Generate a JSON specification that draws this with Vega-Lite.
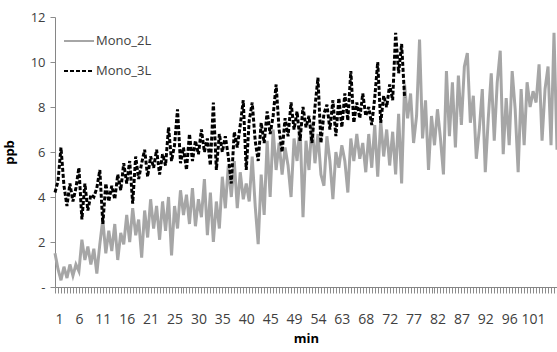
{
  "$schema": "https://vega.github.io/schema/vega-lite/v6.json",
  "width": 502,
  "height": 270,
  "autosize": {"type": "none"},
  "padding": {"left": 55, "top": 17, "right": 0, "bottom": 65},
  "background": "white",
  "config": {
    "view": {"stroke": null},
    "font": "Open Sans",
    "axis": {"grid": false, "domainColor": "#868686", "tickColor": "#8c8c8c", "labelColor": "#404040"}
  },
  "data": {"values": [
    {"i":0,"s":"Mono_2L","v":1.5},{"i":1,"s":"Mono_2L","v":0.8},{"i":2,"s":"Mono_2L","v":0.3},{"i":3,"s":"Mono_2L","v":0.9},{"i":4,"s":"Mono_2L","v":0.4},{"i":5,"s":"Mono_2L","v":1.0},{"i":6,"s":"Mono_2L","v":0.5},{"i":7,"s":"Mono_2L","v":1.0},{"i":8,"s":"Mono_2L","v":0.7},{"i":9,"s":"Mono_2L","v":2.1},
    {"i":10,"s":"Mono_2L","v":1.2},{"i":11,"s":"Mono_2L","v":1.8},{"i":12,"s":"Mono_2L","v":1.0},{"i":13,"s":"Mono_2L","v":1.7},{"i":14,"s":"Mono_2L","v":0.6},{"i":15,"s":"Mono_2L","v":1.9},{"i":16,"s":"Mono_2L","v":3.0},{"i":17,"s":"Mono_2L","v":1.5},{"i":18,"s":"Mono_2L","v":2.5},{"i":19,"s":"Mono_2L","v":1.6},
    {"i":20,"s":"Mono_2L","v":2.8},{"i":21,"s":"Mono_2L","v":1.2},{"i":22,"s":"Mono_2L","v":2.4},{"i":23,"s":"Mono_2L","v":1.9},{"i":24,"s":"Mono_2L","v":3.2},{"i":25,"s":"Mono_2L","v":2.0},{"i":26,"s":"Mono_2L","v":3.5},{"i":27,"s":"Mono_2L","v":2.3},{"i":28,"s":"Mono_2L","v":3.0},{"i":29,"s":"Mono_2L","v":1.3},
    {"i":30,"s":"Mono_2L","v":3.4},{"i":31,"s":"Mono_2L","v":2.2},{"i":32,"s":"Mono_2L","v":3.9},{"i":33,"s":"Mono_2L","v":2.6},{"i":34,"s":"Mono_2L","v":3.6},{"i":35,"s":"Mono_2L","v":2.1},{"i":36,"s":"Mono_2L","v":3.8},{"i":37,"s":"Mono_2L","v":2.5},{"i":38,"s":"Mono_2L","v":4.0},{"i":39,"s":"Mono_2L","v":1.4},
    {"i":40,"s":"Mono_2L","v":3.6},{"i":41,"s":"Mono_2L","v":2.6},{"i":42,"s":"Mono_2L","v":4.3},{"i":43,"s":"Mono_2L","v":3.2},{"i":44,"s":"Mono_2L","v":4.1},{"i":45,"s":"Mono_2L","v":2.8},{"i":46,"s":"Mono_2L","v":4.4},{"i":47,"s":"Mono_2L","v":2.7},{"i":48,"s":"Mono_2L","v":3.9},{"i":49,"s":"Mono_2L","v":3.1},
    {"i":50,"s":"Mono_2L","v":4.8},{"i":51,"s":"Mono_2L","v":2.3},{"i":52,"s":"Mono_2L","v":4.2},{"i":53,"s":"Mono_2L","v":2.0},{"i":54,"s":"Mono_2L","v":3.8},{"i":55,"s":"Mono_2L","v":2.6},{"i":56,"s":"Mono_2L","v":4.9},{"i":57,"s":"Mono_2L","v":3.5},{"i":58,"s":"Mono_2L","v":5.4},{"i":59,"s":"Mono_2L","v":4.0},
    {"i":60,"s":"Mono_2L","v":5.6},{"i":61,"s":"Mono_2L","v":3.5},{"i":62,"s":"Mono_2L","v":5.1},{"i":63,"s":"Mono_2L","v":3.9},{"i":64,"s":"Mono_2L","v":4.6},{"i":65,"s":"Mono_2L","v":3.8},{"i":66,"s":"Mono_2L","v":5.8},{"i":67,"s":"Mono_2L","v":3.6},{"i":68,"s":"Mono_2L","v":1.9},{"i":69,"s":"Mono_2L","v":5.0},
    {"i":70,"s":"Mono_2L","v":3.2},{"i":71,"s":"Mono_2L","v":6.5},{"i":72,"s":"Mono_2L","v":4.0},{"i":73,"s":"Mono_2L","v":7.0},{"i":74,"s":"Mono_2L","v":5.2},{"i":75,"s":"Mono_2L","v":6.4},{"i":76,"s":"Mono_2L","v":5.0},{"i":77,"s":"Mono_2L","v":6.2},{"i":78,"s":"Mono_2L","v":5.4},{"i":79,"s":"Mono_2L","v":4.0},
    {"i":80,"s":"Mono_2L","v":6.6},{"i":81,"s":"Mono_2L","v":5.6},{"i":82,"s":"Mono_2L","v":7.2},{"i":83,"s":"Mono_2L","v":3.1},{"i":84,"s":"Mono_2L","v":6.5},{"i":85,"s":"Mono_2L","v":5.2},{"i":86,"s":"Mono_2L","v":7.3},{"i":87,"s":"Mono_2L","v":5.5},{"i":88,"s":"Mono_2L","v":6.8},{"i":89,"s":"Mono_2L","v":5.0},
    {"i":90,"s":"Mono_2L","v":4.5},{"i":91,"s":"Mono_2L","v":6.7},{"i":92,"s":"Mono_2L","v":5.6},{"i":93,"s":"Mono_2L","v":3.9},{"i":94,"s":"Mono_2L","v":6.0},{"i":95,"s":"Mono_2L","v":5.3},{"i":96,"s":"Mono_2L","v":6.3},{"i":97,"s":"Mono_2L","v":5.6},{"i":98,"s":"Mono_2L","v":4.2},{"i":99,"s":"Mono_2L","v":6.6},
    {"i":100,"s":"Mono_2L","v":5.6},{"i":101,"s":"Mono_2L","v":6.8},{"i":102,"s":"Mono_2L","v":5.7},{"i":103,"s":"Mono_2L","v":6.4},{"i":104,"s":"Mono_2L","v":5.1},{"i":105,"s":"Mono_2L","v":6.8},{"i":106,"s":"Mono_2L","v":5.3},{"i":107,"s":"Mono_2L","v":7.2},{"i":108,"s":"Mono_2L","v":4.9},{"i":109,"s":"Mono_2L","v":7.4},
    {"i":110,"s":"Mono_2L","v":5.8},{"i":111,"s":"Mono_2L","v":7.0},{"i":112,"s":"Mono_2L","v":5.4},{"i":113,"s":"Mono_2L","v":6.9},{"i":114,"s":"Mono_2L","v":5.0},{"i":115,"s":"Mono_2L","v":7.7},{"i":116,"s":"Mono_2L","v":4.6},{"i":117,"s":"Mono_2L","v":9.0},{"i":118,"s":"Mono_2L","v":7.5},{"i":119,"s":"Mono_2L","v":8.6},
    {"i":120,"s":"Mono_2L","v":6.4},{"i":121,"s":"Mono_2L","v":7.6},{"i":122,"s":"Mono_2L","v":11.0},{"i":123,"s":"Mono_2L","v":6.6},{"i":124,"s":"Mono_2L","v":8.3},{"i":125,"s":"Mono_2L","v":5.2},{"i":126,"s":"Mono_2L","v":7.6},{"i":127,"s":"Mono_2L","v":6.3},{"i":128,"s":"Mono_2L","v":7.9},{"i":129,"s":"Mono_2L","v":6.6},
    {"i":130,"s":"Mono_2L","v":5.0},{"i":131,"s":"Mono_2L","v":9.6},{"i":132,"s":"Mono_2L","v":6.7},{"i":133,"s":"Mono_2L","v":9.1},{"i":134,"s":"Mono_2L","v":6.2},{"i":135,"s":"Mono_2L","v":9.4},{"i":136,"s":"Mono_2L","v":7.2},{"i":137,"s":"Mono_2L","v":9.8},{"i":138,"s":"Mono_2L","v":10.4},{"i":139,"s":"Mono_2L","v":7.3},
    {"i":140,"s":"Mono_2L","v":8.5},{"i":141,"s":"Mono_2L","v":5.7},{"i":142,"s":"Mono_2L","v":7.0},{"i":143,"s":"Mono_2L","v":8.8},{"i":144,"s":"Mono_2L","v":5.1},{"i":145,"s":"Mono_2L","v":7.5},{"i":146,"s":"Mono_2L","v":9.5},{"i":147,"s":"Mono_2L","v":6.5},{"i":148,"s":"Mono_2L","v":9.1},{"i":149,"s":"Mono_2L","v":10.5},
    {"i":150,"s":"Mono_2L","v":5.9},{"i":151,"s":"Mono_2L","v":8.4},{"i":152,"s":"Mono_2L","v":6.3},{"i":153,"s":"Mono_2L","v":9.6},{"i":154,"s":"Mono_2L","v":7.9},{"i":155,"s":"Mono_2L","v":5.1},{"i":156,"s":"Mono_2L","v":8.8},{"i":157,"s":"Mono_2L","v":6.3},{"i":158,"s":"Mono_2L","v":9.1},{"i":159,"s":"Mono_2L","v":8.0},
    {"i":160,"s":"Mono_2L","v":8.7},{"i":161,"s":"Mono_2L","v":8.2},{"i":162,"s":"Mono_2L","v":9.9},{"i":163,"s":"Mono_2L","v":6.5},{"i":164,"s":"Mono_2L","v":8.8},{"i":165,"s":"Mono_2L","v":9.8},{"i":166,"s":"Mono_2L","v":6.3},{"i":167,"s":"Mono_2L","v":11.3},{"i":168,"s":"Mono_2L","v":6.1},
    {"i":0,"s":"Mono_3L","v":4.2},{"i":1,"s":"Mono_3L","v":4.7},{"i":2,"s":"Mono_3L","v":6.2},{"i":3,"s":"Mono_3L","v":4.5},{"i":4,"s":"Mono_3L","v":3.6},{"i":5,"s":"Mono_3L","v":4.6},{"i":6,"s":"Mono_3L","v":3.8},{"i":7,"s":"Mono_3L","v":4.4},{"i":8,"s":"Mono_3L","v":5.3},{"i":9,"s":"Mono_3L","v":3.0},
    {"i":10,"s":"Mono_3L","v":4.6},{"i":11,"s":"Mono_3L","v":3.4},{"i":12,"s":"Mono_3L","v":4.1},{"i":13,"s":"Mono_3L","v":4.0},{"i":14,"s":"Mono_3L","v":4.4},{"i":15,"s":"Mono_3L","v":5.2},{"i":16,"s":"Mono_3L","v":2.8},{"i":17,"s":"Mono_3L","v":4.6},{"i":18,"s":"Mono_3L","v":3.8},{"i":19,"s":"Mono_3L","v":4.5},
    {"i":20,"s":"Mono_3L","v":3.9},{"i":21,"s":"Mono_3L","v":5.0},{"i":22,"s":"Mono_3L","v":4.3},{"i":23,"s":"Mono_3L","v":5.5},{"i":24,"s":"Mono_3L","v":4.6},{"i":25,"s":"Mono_3L","v":5.6},{"i":26,"s":"Mono_3L","v":3.7},{"i":27,"s":"Mono_3L","v":5.8},{"i":28,"s":"Mono_3L","v":4.8},{"i":29,"s":"Mono_3L","v":5.5},
    {"i":30,"s":"Mono_3L","v":6.1},{"i":31,"s":"Mono_3L","v":4.9},{"i":32,"s":"Mono_3L","v":5.8},{"i":33,"s":"Mono_3L","v":5.3},{"i":34,"s":"Mono_3L","v":6.1},{"i":35,"s":"Mono_3L","v":5.0},{"i":36,"s":"Mono_3L","v":5.9},{"i":37,"s":"Mono_3L","v":5.4},{"i":38,"s":"Mono_3L","v":7.1},{"i":39,"s":"Mono_3L","v":5.6},
    {"i":40,"s":"Mono_3L","v":6.3},{"i":41,"s":"Mono_3L","v":7.9},{"i":42,"s":"Mono_3L","v":5.5},{"i":43,"s":"Mono_3L","v":6.2},{"i":44,"s":"Mono_3L","v":5.2},{"i":45,"s":"Mono_3L","v":6.8},{"i":46,"s":"Mono_3L","v":5.6},{"i":47,"s":"Mono_3L","v":6.5},{"i":48,"s":"Mono_3L","v":5.9},{"i":49,"s":"Mono_3L","v":7.0},
    {"i":50,"s":"Mono_3L","v":6.0},{"i":51,"s":"Mono_3L","v":6.6},{"i":52,"s":"Mono_3L","v":5.4},{"i":53,"s":"Mono_3L","v":8.2},{"i":54,"s":"Mono_3L","v":5.2},{"i":55,"s":"Mono_3L","v":6.8},{"i":56,"s":"Mono_3L","v":6.0},{"i":57,"s":"Mono_3L","v":6.7},{"i":58,"s":"Mono_3L","v":5.8},{"i":59,"s":"Mono_3L","v":4.6},
    {"i":60,"s":"Mono_3L","v":6.9},{"i":61,"s":"Mono_3L","v":6.2},{"i":62,"s":"Mono_3L","v":7.2},{"i":63,"s":"Mono_3L","v":8.3},{"i":64,"s":"Mono_3L","v":5.2},{"i":65,"s":"Mono_3L","v":7.4},{"i":66,"s":"Mono_3L","v":8.2},{"i":67,"s":"Mono_3L","v":6.5},{"i":68,"s":"Mono_3L","v":5.6},{"i":69,"s":"Mono_3L","v":7.3},
    {"i":70,"s":"Mono_3L","v":6.4},{"i":71,"s":"Mono_3L","v":7.8},{"i":72,"s":"Mono_3L","v":6.8},{"i":73,"s":"Mono_3L","v":7.6},{"i":74,"s":"Mono_3L","v":9.0},{"i":75,"s":"Mono_3L","v":7.0},{"i":76,"s":"Mono_3L","v":6.0},{"i":77,"s":"Mono_3L","v":7.5},{"i":78,"s":"Mono_3L","v":6.7},{"i":79,"s":"Mono_3L","v":8.2},
    {"i":80,"s":"Mono_3L","v":7.0},{"i":81,"s":"Mono_3L","v":7.8},{"i":82,"s":"Mono_3L","v":6.5},{"i":83,"s":"Mono_3L","v":8.0},{"i":84,"s":"Mono_3L","v":7.1},{"i":85,"s":"Mono_3L","v":7.6},{"i":86,"s":"Mono_3L","v":6.4},{"i":87,"s":"Mono_3L","v":8.0},{"i":88,"s":"Mono_3L","v":9.3},{"i":89,"s":"Mono_3L","v":6.4},
    {"i":90,"s":"Mono_3L","v":7.7},{"i":91,"s":"Mono_3L","v":8.1},{"i":92,"s":"Mono_3L","v":7.0},{"i":93,"s":"Mono_3L","v":8.3},{"i":94,"s":"Mono_3L","v":6.7},{"i":95,"s":"Mono_3L","v":8.4},{"i":96,"s":"Mono_3L","v":7.1},{"i":97,"s":"Mono_3L","v":8.6},{"i":98,"s":"Mono_3L","v":7.4},{"i":99,"s":"Mono_3L","v":9.6},
    {"i":100,"s":"Mono_3L","v":7.3},{"i":101,"s":"Mono_3L","v":8.2},{"i":102,"s":"Mono_3L","v":7.5},{"i":103,"s":"Mono_3L","v":8.6},{"i":104,"s":"Mono_3L","v":7.6},{"i":105,"s":"Mono_3L","v":8.0},{"i":106,"s":"Mono_3L","v":7.2},{"i":107,"s":"Mono_3L","v":8.4},{"i":108,"s":"Mono_3L","v":10.0},{"i":109,"s":"Mono_3L","v":7.3},
    {"i":110,"s":"Mono_3L","v":8.5},{"i":111,"s":"Mono_3L","v":8.0},{"i":112,"s":"Mono_3L","v":9.0},{"i":113,"s":"Mono_3L","v":8.3},{"i":114,"s":"Mono_3L","v":11.3},{"i":115,"s":"Mono_3L","v":9.5},{"i":116,"s":"Mono_3L","v":10.8},{"i":117,"s":"Mono_3L","v":8.4}
  ]},
  "mark": {"type": "line", "strokeWidth": 3},
  "encoding": {
    "x": {
      "field": "i", "type": "quantitative",
      "scale": {"domain": [0, 168], "nice": false},
      "axis": {
        "title": "min", "titleFontWeight": "bold", "titleFontSize": 13, "titlePadding": 6,
        "values": [0,1,2,3,4,5,6,7,8,9,10,11,12,13,14,15,16,17,18,19,20,21,22,23,24,25,26,27,28,29,30,31,32,33,34,35,36,37,38,39,40,41,42,43,44,45,46,47,48,49,50,51,52,53,54,55,56,57,58,59,60,61,62,63,64,65,66,67,68,69,70,71,72,73,74,75,76,77,78,79,80,81,82,83,84,85,86,87,88,89,90,91,92,93,94,95,96,97,98,99,100,101,102,103,104,105,106,107,108,109,110,111,112,113,114,115,116,117,118,119,120,121,122,123,124,125,126,127,128,129,130,131,132,133,134,135,136,137,138,139,140,141,142,143,144,145,146,147,148,149,150,151,152,153,154,155,156,157,158,159,160,161,162,163,164,165,166,167,168],
        "tickSize": 6,
        "labelFontSize": 14, "labelPadding": 19, "labelOverlap": false,
        "labelExpr": "datum.value % 8 == 0 && datum.value <= 160 ? ['1','6','11','16','21','25','30','35','40','45','49','54','63','68','72','77','82','87','92','96','101'][datum.value / 8] : ''"
      }
    },
    "y": {
      "field": "v", "type": "quantitative",
      "scale": {"domain": [0, 12], "nice": false},
      "axis": {
        "title": "ppb", "titleFontWeight": "bold", "titleFontSize": 13, "titlePadding": 14,
        "values": [0, 2, 4, 6, 8, 10, 12], "tickSize": 5, "labelFontSize": 13, "labelPadding": 5,
        "labelExpr": "datum.value == 0 ? '-' : datum.label"
      }
    },
    "color": {
      "field": "s", "type": "nominal",
      "scale": {"domain": ["Mono_2L", "Mono_3L"], "range": ["#a6a6a6", "#000000"]},
      "legend": {
        "title": null, "orient": "top-left", "offset": 8,
        "symbolType": "stroke", "symbolSize": 900, "symbolStrokeWidth": 2,
        "labelFontSize": 13, "labelColor": "#404040", "labelOffset": 1, "rowPadding": 7
      }
    },
    "strokeDash": {
      "field": "s", "type": "nominal",
      "scale": {"domain": ["Mono_2L", "Mono_3L"], "range": [[1, 0], [4, 2]]},
      "legend": {
        "title": null, "orient": "top-left", "offset": 8,
        "symbolType": "stroke", "symbolSize": 900, "symbolStrokeWidth": 2,
        "labelFontSize": 13, "labelColor": "#404040", "labelOffset": 1, "rowPadding": 7
      }
    }
  }
}
